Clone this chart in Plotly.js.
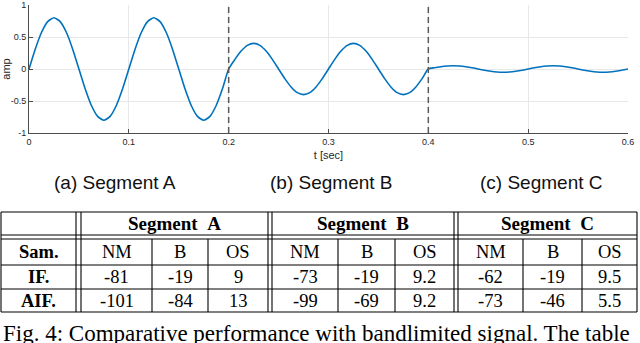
<!DOCTYPE html>
<html>
<head>
<meta charset="utf-8">
<script src="https://cdn.plot.ly/plotly-3.0.1.min.js"></script>
<style>html,body{margin:0;padding:0;background:#fff;}#chart{width:640px;height:343px;}</style>
</head>
<body>
<div id="chart"></div>
<script>
// ---- data ----
const t0 = 0, dt = 0.00625;
const amp = [
  0, 0.31, 0.57, 0.74, 0.8, 0.74, 0.57, 0.31, 0, -0.31, -0.57, -0.74, -0.8, -0.74, -0.57, -0.31,
  0, 0.31, 0.57, 0.74, 0.8, 0.74, 0.57, 0.31, 0, -0.31, -0.57, -0.74, -0.8, -0.74, -0.57, -0.31,
  0,
  0.15, 0.28, 0.37, 0.4, 0.37, 0.28, 0.15, 0, -0.15, -0.28, -0.37, -0.4, -0.37, -0.28, -0.15, 0,
  0.15, 0.28, 0.37, 0.4, 0.37, 0.28, 0.15, 0, -0.15, -0.28, -0.37, -0.4, -0.37, -0.28, -0.15, 0,
  0.02, 0.035, 0.046, 0.05, 0.046, 0.035, 0.02, 0, -0.02, -0.035, -0.046, -0.05, -0.046, -0.035, -0.02, 0,
  0.02, 0.035, 0.046, 0.05, 0.046, 0.035, 0.02, 0, -0.02, -0.035, -0.046, -0.05, -0.046, -0.035, -0.02, 0
];
const boundaries = [0.2, 0.4];
const xTicks = [0, 0.1, 0.2, 0.3, 0.4, 0.5, 0.6];
const xTickText = ['0', '0.1', '0.2', '0.3', '0.4', '0.5', '0.6'];
const yTicks = [-1, -0.5, 0, 0.5, 1];
const yTickText = ['-1', '-0.5', '0', '0.5', '1'];
const subCaptions = ['(a) Segment A', '(b) Segment B', '(c) Segment C'];
const segHeaders = ['Segment  A', 'Segment  B', 'Segment  C'];
const subCols = ['NM', 'B', 'OS'];
const rowLabels = ['Sam.', 'IF.', 'AIF.'];
const ifVals = ['-81', '-19', '9', '-73', '-19', '9.2', '-62', '-19', '9.5'];
const aifVals = ['-101', '-84', '13', '-99', '-69', '9.2', '-73', '-46', '5.5'];
const figCaption = 'Fig. 4: Comparative performance with bandlimited signal. The table';

// ---- layout helpers (pixel -> paper) ----
const W = 640, H = 343;
const px = x => x / W;
const py = y => 1 - y / H;

const shapes = [];
const annotations = [];

// segment boundaries
boundaries.forEach(b => shapes.push({
  type: 'line', xref: 'x', yref: 'y', x0: b, x1: b, y0: -1, y1: 1,
  line: {color: '#5a5a5a', width: 1.5, dash: '6px,4px'}
}));

// sub captions
const capX = [115, 331, 541];
subCaptions.forEach((s, i) => annotations.push({
  xref: 'paper', yref: 'paper', x: px(capX[i]), y: py(182), xanchor: 'center', yanchor: 'middle',
  text: s, showarrow: false, font: {family: 'Liberation Sans, Arial', size: 19, color: '#111'}
}));

// table geometry
const tL = 1, tR = 637, tTop = 212, hb = 235, bt = 239, r1 = 265, r2 = 289, tBot = 312;
const dbl = [[76, 81], [268, 272], [454, 458]];
const segSpans = [[81, 268], [272, 454], [458, tR]];
const innerCols = [[81, 152, 208, 268], [272, 338, 395, 454], [458, 523, 582, tR]];
const lineStyle = {color: '#000', width: 1.1};
const hl = (y, x0, x1) => shapes.push({type: 'line', xref: 'paper', yref: 'paper', x0: px(x0), x1: px(x1), y0: py(y), y1: py(y), line: lineStyle});
const vl = (x, y0, y1) => shapes.push({type: 'line', xref: 'paper', yref: 'paper', x0: px(x), x1: px(x), y0: py(y0), y1: py(y1), line: lineStyle});
[tTop, hb, bt, r1, r2, tBot].forEach(y => hl(y, tL, tR));
[tL, tR].forEach(x => vl(x, tTop, tBot));
dbl.forEach(d => { vl(d[0], tTop, tBot); vl(d[1], tTop, tBot); });
innerCols.forEach(c => { vl(c[1], bt, tBot); vl(c[2], bt, tBot); });

const serif = 'Liberation Serif, Times New Roman, serif';
const txt = (x, y, s, bold, size) => annotations.push({
  xref: 'paper', yref: 'paper', x: px(x), y: py(y), xanchor: 'center', yanchor: 'middle',
  text: bold ? '<b>' + s + '</b>' : s, showarrow: false,
  font: {family: serif, size: size || 18.5, color: '#000'}
});
segHeaders.forEach((s, i) => txt((segSpans[i][0] + segSpans[i][1]) / 2, 224, s.replace('  ', '&nbsp;&nbsp;'), true, 19));
const rowY = [252, 277, 301];
rowLabels.forEach((s, i) => txt((tL + 76) / 2, rowY[i], s, true));
const rows = [[...subCols, ...subCols, ...subCols], ifVals, aifVals];
rows.forEach((vals, r) => {
  vals.forEach((v, k) => {
    const seg = Math.floor(k / 3), j = k % 3;
    const c = innerCols[seg];
    txt((c[j] + c[j + 1]) / 2, rowY[r], v, false);
  });
});

// figure caption
annotations.push({
  xref: 'paper', yref: 'paper', x: px(1), y: py(333), xanchor: 'left', yanchor: 'middle',
  text: figCaption, showarrow: false, font: {family: serif, size: 23, color: '#000'}
});

const trace = {
  type: 'scatter', mode: 'lines', x0: t0, dx: dt, y: amp,
  line: {color: '#0072BD', width: 1.6, shape: 'spline', smoothing: 0.6},
  hoverinfo: 'skip'
};

const axisFont = {family: 'Liberation Sans, Arial', size: 9, color: '#262626'};
const layout = {
  width: W, height: H,
  margin: {l: 0, r: 0, t: 0, b: 0},
  paper_bgcolor: '#fff', plot_bgcolor: '#fff',
  showlegend: false,
  xaxis: {
    domain: [px(29), px(628)], range: [0, 0.6], anchor: 'y',
    tickvals: xTicks, ticktext: xTickText, ticks: 'inside', ticklen: 4, tickcolor: '#4d4d4d',
    showline: true, linecolor: '#4d4d4d', linewidth: 1, mirror: false,
    showgrid: true, gridcolor: '#e8e8e8', gridwidth: 1, zeroline: false,
    tickfont: axisFont,
    title: {text: 't [sec]', font: {family: 'Liberation Sans, Arial', size: 11, color: '#262626'}, standoff: 5}
  },
  yaxis: {
    domain: [py(133), py(5)], range: [-1, 1], anchor: 'x',
    tickvals: yTicks, ticktext: yTickText, ticks: 'inside', ticklen: 4, tickcolor: '#4d4d4d',
    showline: true, linecolor: '#4d4d4d', linewidth: 1, mirror: false,
    showgrid: true, gridcolor: '#e8e8e8', gridwidth: 1, zeroline: false,
    tickfont: axisFont,
    title: {text: 'amp', font: {family: 'Liberation Sans, Arial', size: 11, color: '#262626'}, standoff: 2}
  },
  shapes: shapes,
  annotations: annotations
};

Plotly.newPlot('chart', [trace], layout, {staticPlot: true, displayModeBar: false});
</script>
</body>
</html>
